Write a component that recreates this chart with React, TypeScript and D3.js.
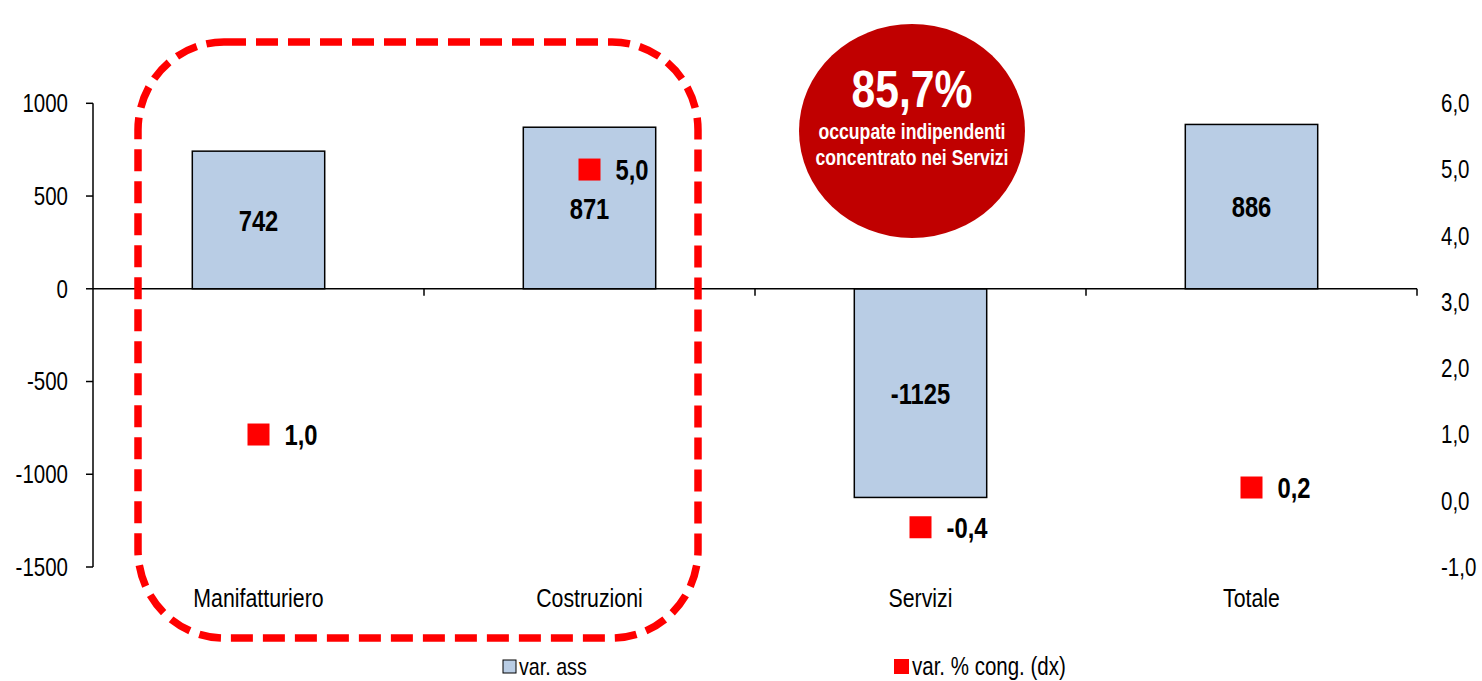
import React from "react";
import * as d3 from "d3";

const categories = ["Manifatturiero", "Costruzioni", "Servizi", "Totale"];
const varAss = [742, 871, -1125, 886];
const varPct = [1.0, 5.0, -0.4, 0.2];
const leftTicks = [1000, 500, 0, -500, -1000, -1500];
const rightTicks = [6, 5, 4, 3, 2, 1, 0, -1];
const legendLabels = ["var. ass", "var. % cong. (dx)"];
const bubbleTitle = "85,7%";
const bubbleLines = ["occupate indipendenti", "concentrato nei Servizi"];

const W = 1482;
const H = 681;
const FONT = "'Liberation Sans', Arial, sans-serif";
const BAR_FILL = "#B9CDE5";
const RED = "#FF0000";
const DARK_RED = "#C00000";
const NARROW = 0.82;

const fmtIt = (v: number, d: number) => v.toFixed(d).replace(".", ",");

type NTProps = {
  x: number;
  y: number;
  size: number;
  anchor?: "start" | "middle" | "end";
  bold?: boolean;
  fill?: string;
  central?: boolean;
  children: React.ReactNode;
};

function NText({ x, y, size, anchor = "start", bold = false, fill = "#000", central = false, children }: NTProps) {
  return (
    <text
      transform={`translate(${x},${y}) scale(${NARROW},1)`}
      textAnchor={anchor}
      dominantBaseline={central ? "central" : "alphabetic"}
      fontWeight={bold ? "bold" : "normal"}
      fontSize={size}
      fill={fill}
    >
      {children}
    </text>
  );
}

export default function App() {
  const left = 93;
  const right = 1417;
  const x = d3.scaleBand<string>().domain(categories).range([left, right]).paddingInner(0).paddingOuter(0);
  const yL = d3.scaleLinear().domain([-1500, 1000]).range([567, 103.3]);
  const yR = d3.scaleLinear().domain([-1, 6]).range([567, 103.3]);
  const barW = x.bandwidth() * 0.4;
  const y0 = yL(0);
  const ms = 22;

  return (
    <svg
      width={W}
      height={H}
      style={{ position: "absolute", left: 0, top: 0, background: "#fff" }}
      fontFamily={FONT}
    >
      {/* bars */}
      {categories.map((c, i) => {
        const cx = x(c)! + x.bandwidth() / 2;
        const v = varAss[i];
        const yt = Math.min(yL(v), y0);
        const h = Math.abs(yL(v) - y0);
        return (
          <g key={c}>
            <rect x={cx - barW / 2} y={yt} width={barW} height={h} fill={BAR_FILL} stroke="#000" strokeWidth={1.5} />
            <NText x={cx} y={yt + h / 2 + 1} anchor="middle" bold size={29} central>
              {String(v)}
            </NText>
          </g>
        );
      })}

      {/* x axis line at zero */}
      <line x1={left} x2={right} y1={y0} y2={y0} stroke="#000" strokeWidth={1.5} />
      {categories.map((c) => {
        const xx = x(c)! + x.bandwidth();
        return <line key={"xt" + c} x1={xx} x2={xx} y1={y0} y2={y0 + 7} stroke="#000" strokeWidth={1.5} />;
      })}

      {/* left axis */}
      <line x1={left} x2={left} y1={yL(1000)} y2={yL(-1500)} stroke="#000" strokeWidth={1.5} />
      {leftTicks.map((t) => (
        <g key={"lt" + t}>
          <line x1={left - 7} x2={left} y1={yL(t)} y2={yL(t)} stroke="#000" strokeWidth={1.5} />
          <NText x={68} y={yL(t)} anchor="end" size={25} central>
            {String(t)}
          </NText>
        </g>
      ))}

      {/* right axis labels */}
      {rightTicks.map((t) => (
        <NText key={"rt" + t} x={1441} y={yR(t)} size={25} central>
          {fmtIt(t, 1)}
        </NText>
      ))}

      {/* category labels */}
      {categories.map((c) => (
        <NText key={"cl" + c} x={x(c)! + x.bandwidth() / 2} y={607} anchor="middle" size={26}>
          {c}
        </NText>
      ))}

      {/* markers */}
      {categories.map((c, i) => {
        const cx = x(c)! + x.bandwidth() / 2;
        const cy = yR(varPct[i]);
        return (
          <g key={"m" + c}>
            <rect x={cx - ms / 2} y={cy - ms / 2} width={ms} height={ms} fill={RED} />
            <NText x={cx + ms / 2 + 15} y={cy + 1} bold size={29} central>
              {fmtIt(varPct[i], 1)}
            </NText>
          </g>
        );
      })}

      {/* dashed rounded rectangle */}
      <rect
        x={138}
        y={42}
        width={560}
        height={596}
        rx={86}
        ry={88}
        fill="none"
        stroke={RED}
        strokeWidth={7.5}
        strokeDasharray="22 10"
      />

      {/* bubble */}
      <ellipse cx={912} cy={131} rx={113} ry={107} fill={DARK_RED} />
      <NText x={912} y={107} anchor="middle" bold size={52} fill="#fff">
        {bubbleTitle}
      </NText>
      {bubbleLines.map((l, i) => (
        <NText key={l} x={912} y={139 + i * 26} anchor="middle" bold size={21.5} fill="#fff">
          {l}
        </NText>
      ))}

      {/* legend */}
      <rect x={503} y={660} width={13} height={13} fill={BAR_FILL} stroke="#000" strokeWidth={1} />
      <NText x={519} y={675} size={24}>
        {legendLabels[0]}
      </NText>
      <rect x={894} y={659} width={15} height={15} fill={RED} />
      <NText x={912} y={675} size={25}>
        {legendLabels[1]}
      </NText>
    </svg>
  );
}
